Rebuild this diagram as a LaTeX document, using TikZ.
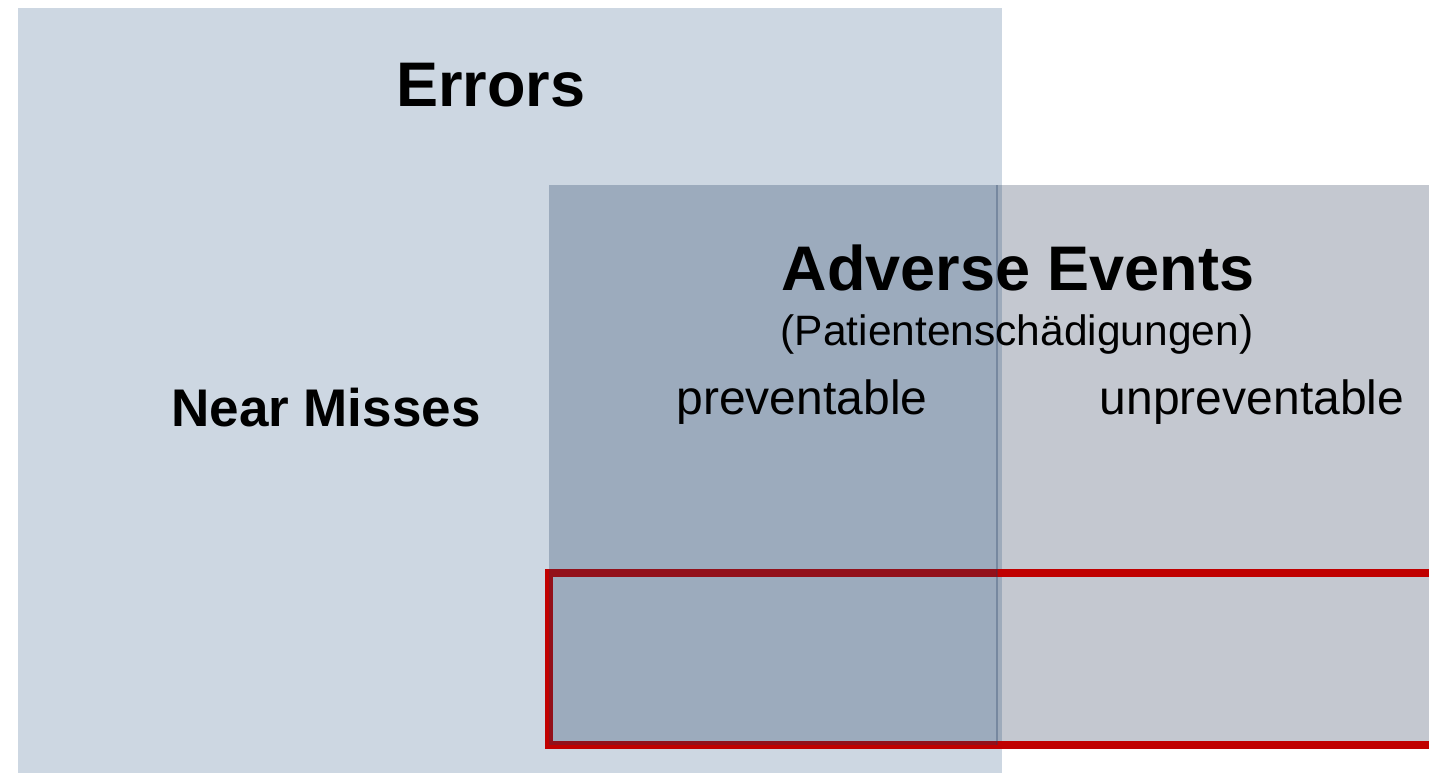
\documentclass[tikz,border=0pt]{standalone}
\usepackage{fontspec}
\setmainfont{Liberation Sans}
\definecolor{errblue}{HTML}{CDD7E2}
\definecolor{aegray}{HTML}{C4C8D0}
\definecolor{ovl}{HTML}{9EABBB}
\definecolor{ovldark}{HTML}{1F3A5F}
\definecolor{redbox}{HTML}{C00000}
\tikzset{
  lbl/.style={anchor=base, inner sep=0pt, text=black},
  bigb/.style={lbl, font=\fontsize{63}{70}\selectfont\bfseries},
  midb/.style={lbl, font=\fontsize{53}{60}\selectfont\bfseries},
  reg/.style={lbl, font=\fontsize{48}{56}\selectfont},
  sub/.style={lbl, font=\fontsize{42.5}{50}\selectfont},
}
\begin{document}
\begin{tikzpicture}[x=1pt,y=-1pt]
\useasboundingbox (0,0) rectangle (1429,773);
% Errors region
\fill[errblue] (18,8) rectangle (1002,773);
% Adverse events (right part)
\fill[aegray] (1002,185) rectangle (1440,747);
\fill[ovl] (997,185) rectangle (1002,741);
% red frame
\draw[redbox, line width=8pt] (549,573) rectangle (1440,745);
% preventable overlay
\fill[ovldark, fill opacity=0.28] (549,185) rectangle (997,745);
\draw[ovldark, draw opacity=0.3, line width=1.5pt] (997,185) -- (997,745);
% labels
\node[bigb] (errors) at (491,107) {Errors};
\node[bigb] (ae) at (1018,290) {Adverse Events};
\node[sub] (pat) at (1017,345) {(Patientenschädigungen)};
\node[midb] (nm) at (326,426) {Near Misses};
\node[reg] (prev) at (802,414) {preventable};
\node[reg] (unprev) at (1252,414) {unpreventable};
\end{tikzpicture}
\end{document}
